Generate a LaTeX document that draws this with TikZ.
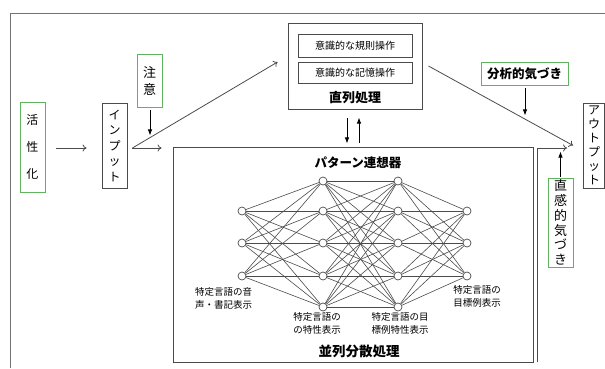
\documentclass[tikz,border=0pt]{standalone}
\usepackage{fontspec}
\setmainfont{Noto Sans CJK JP}
\usetikzlibrary{arrows.meta,calc}
\definecolor{grn}{RGB}{96,180,96}
\definecolor{lgray}{RGB}{115,115,115}
\definecolor{dgray}{RGB}{75,75,75}
\begin{document}
\begin{tikzpicture}[x=1pt,y=-1pt,
  box/.style={draw=dgray, line width=0.9pt, inner sep=0pt},
  gbox/.style={draw=grn, line width=0.9pt, inner sep=0pt},
  openarr/.style={draw=dgray, line width=0.8pt, -{To[length=4pt,width=7pt]}},
  fillarr/.style={draw=black, line width=0.8pt, -{Latex[length=6pt,width=4.5pt]}},
  neuron/.style={circle, draw=dgray, fill=white, line width=0.7pt, minimum size=8pt, inner sep=0pt},
  link/.style={draw=dgray, line width=0.6pt},
  small/.style={font=\fontsize{9.5}{13}\selectfont, inner sep=0pt},
  title/.style={font=\fontsize{12.5}{14}\selectfont\bfseries, inner sep=0pt}
]
\useasboundingbox (0,0) rectangle (605,368);
% outer frame
\draw[lgray, line width=1pt] (10,368) -- (10,13) -- (605,13);

% left boxes
\node[gbox, minimum width=25pt, minimum height=90pt, align=center,
      font=\fontsize{12}{27}\selectfont] (katsu) at (32.5,147) {活\\性\\化};
\node[box, minimum width=25pt, minimum height=85pt, align=center,
      font=\fontsize{12}{15.5}\selectfont] (input) at (114.5,145.5) {イ\\ン\\プ\\ッ\\ト};
\node[gbox, minimum width=25pt, minimum height=53pt, align=center,
      font=\fontsize{13}{17}\selectfont] (chui) at (149.5,80.5) {注\\意};

% serial box
\node[box, minimum width=134pt, minimum height=86pt] (serial) at (355,66) {};
\node[box, minimum width=114pt, minimum height=23pt, font=\fontsize{10}{12}\selectfont] (rule) at (355,45.5) {意識的な規則操作};
\node[box, minimum width=114pt, minimum height=21pt, font=\fontsize{10}{12}\selectfont] (memo) at (355,72.5) {意識的な記憶操作};
\node[title, font=\fontsize{13}{15}\selectfont\bfseries] (serlab) at (355,98) {直列処理};

% parallel box
\node[box, minimum width=360pt, minimum height=215pt] (par) at (353,254.5) {};
\node[title] (patt) at (358,163) {パターン連想器};
\node[title, font=\fontsize{13.5}{15}\selectfont\bfseries] (parlab) at (359,351) {並列分散処理};

% right boxes
\node[gbox, minimum width=87pt, minimum height=23pt, font=\fontsize{12.5}{14}\selectfont\bfseries] (bunseki) at (524.5,73.5) {分析的気づき};
\node[box, minimum width=21pt, minimum height=85pt, align=center,
      font=\fontsize{12}{14}\selectfont] (output) at (594,145.5) {ア\\ウ\\ト\\プ\\ッ\\ト};
\node[gbox, minimum width=25pt, minimum height=89pt, align=center,
      font=\fontsize{13}{14.8}\selectfont] (chokkan) at (560.5,222.5) {直\\感\\的\\気\\づ\\き};

% network
\foreach \y [count=\i] in {211,243,276} \node[neuron] (a\i) at (242,\y) {};
\foreach \y [count=\i] in {181,211,243,276,307} \node[neuron] (b\i) at (323,\y) {};
\foreach \y [count=\i] in {181,211,243,276,307} \node[neuron] (c\i) at (398,\y) {};
\foreach \y [count=\i] in {211,243,276} \node[neuron] (d\i) at (467,\y) {};
\foreach \i in {1,...,3} \foreach \j in {1,...,5} \draw[link] (a\i) -- (b\j);
\foreach \i in {1,...,5} \foreach \j in {1,...,5} \draw[link] (b\i) -- (c\j);
\foreach \i in {1,...,5} \foreach \j in {1,...,3} \draw[link] (c\i) -- (d\j);

% network labels
\node[small, align=left, anchor=north west] (l1) at (195,287) {特定言語の音\\声・書記表示};
\node[small, align=center, anchor=north] (l2) at (317,312) {特定言語の\\の特性表示};
\node[small, align=center, anchor=north] (l3) at (400,312) {特定言語の目\\標例特性表示};
\node[small, align=center, anchor=north] (l4) at (477,285) {特定言語の\\目標例表示};

% arrows
\draw[openarr] ($(katsu.east)+(11,1)$) -- ($(input.west)+(-15,2.5)$);
\coordinate (split) at ($(input.east)+(5,2.5)$);
\draw[openarr, shorten >=11pt] (split) -- (split -| par.west);
\draw[openarr] (split) -- ($(serial.west)+(-10,-4)$);
\draw[fillarr] ($(chui.south)+(0.5,3)$) -- ++(0,25);
\draw[fillarr] ($(serial.south)+(-8,9)$) -- ++(0,25);
\draw[fillarr] ($(par.north)+(6,-4)$) -- ++(0,-25);
\draw[openarr] ($(serial.east)+(6,0)$) -- ($(output.west)+(-10,0)$);
\draw[fillarr] ($(bunseki.south)+(0.5,3)$) -- ++(0,27);
\draw[openarr] ($(par.south east)+(3.5,0)$) |- ($(output.west)+(-16,2.5)$);
\draw[fillarr] ($(chokkan.north)+(0,-1)$) -- ++(0,-25);
\end{tikzpicture}
\end{document}
